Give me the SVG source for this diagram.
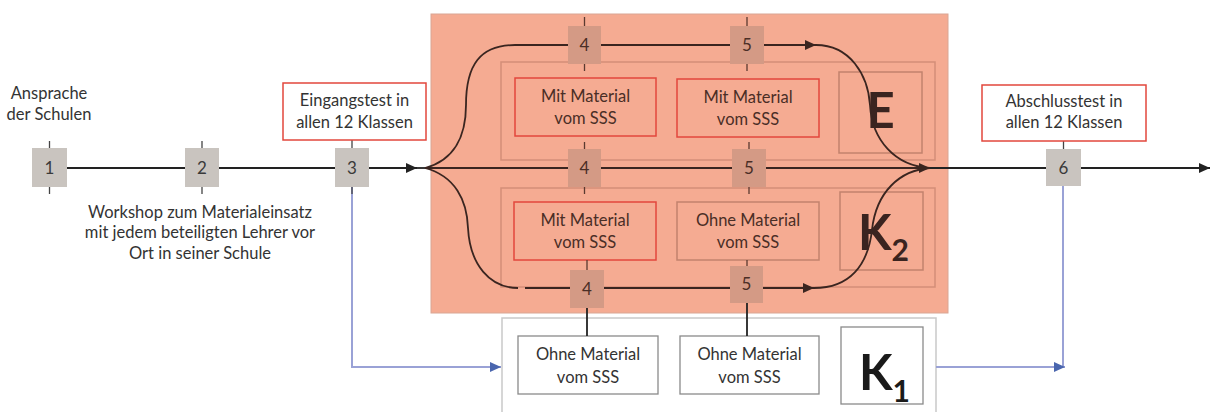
<svg xmlns="http://www.w3.org/2000/svg" width="1212" height="412" viewBox="0 0 1212 412">
<defs>
<style>
text{font-family:Lato,"Open Sans","DejaVu Sans",sans-serif}
.gbox{fill:#C9C4BF}
.sbox{fill:#D49A85}
.num{font-size:17px;fill:#3a3a3a;text-anchor:middle}
.snum{font-size:17px;fill:#4a2e26;text-anchor:middle}
.lbl{font-size:16.5px;fill:#333;text-anchor:middle}
.slbl{font-size:16.5px;fill:#4a2e26;text-anchor:middle}
.redbox{fill:#fff;stroke:#E2473D;stroke-width:1.5}
.sred{fill:none;stroke:#E2473D;stroke-width:1.5}
.sgrp{fill:none;stroke:#D38E78;stroke-width:1.5}
.sin{fill:none;stroke:#C2836D;stroke-width:1.5}
.wbox{fill:#fff;stroke:#8a8a8a;stroke-width:1.3}
.main{stroke:#222;stroke-width:1.8;fill:none}
.curve{stroke:#3a2520;stroke-width:1.8;fill:none}
.tick{stroke:#444;stroke-width:1.3}
.stick{stroke:#5a3a30;stroke-width:1.3}
.blue{stroke:#9AA2D6;stroke-width:2;fill:none}
.big{font-weight:700;fill:#3a2420}
</style>
<marker id="ab" markerUnits="userSpaceOnUse" markerWidth="12" markerHeight="10" refX="11" refY="5" orient="auto"><path d="M0,0 L11,5 L0,10 z" fill="#222"/></marker>
<marker id="abr" markerUnits="userSpaceOnUse" markerWidth="12" markerHeight="10" refX="11" refY="5" orient="auto"><path d="M0,0 L11,5 L0,10 z" fill="#3a2520"/></marker>
<marker id="abl" markerUnits="userSpaceOnUse" markerWidth="12" markerHeight="10" refX="11" refY="5" orient="auto"><path d="M0,0 L11,5 L0,10 z" fill="#4A66AE"/></marker>
</defs>
<rect width="1212" height="412" fill="#fff"/>

<!-- background panels -->
<g id="phase-panel">
<rect x="431" y="14" width="517" height="299" fill="#F5AB92" stroke="#D9A694" stroke-width="1"/>
</g>
<g id="group-E">
<rect class="sgrp" x="501" y="62" width="434" height="98"/>
<rect class="sred" x="515" y="78" width="141" height="58"/>
<text class="slbl" x="585.5" y="102">Mit Material</text>
<text class="slbl" x="585.5" y="124">vom SSS</text>
<rect class="sred" x="677" y="79" width="142" height="58"/>
<text class="slbl" x="748" y="103">Mit Material</text>
<text class="slbl" x="748" y="125">vom SSS</text>
<rect class="sin" x="839" y="72" width="83" height="81"/>
<text class="big" x="880.5" y="128" font-size="49" text-anchor="middle">E</text>
</g>
<g id="group-K2">
<rect class="sgrp" x="501" y="188" width="434" height="99"/>
<rect class="sred" x="514" y="202" width="142" height="58"/>
<text class="slbl" x="585" y="226">Mit Material</text>
<text class="slbl" x="585" y="248">vom SSS</text>
<rect class="sin" x="677" y="202" width="142" height="58"/>
<text class="slbl" x="748" y="226">Ohne Material</text>
<text class="slbl" x="748" y="248">vom SSS</text>
<rect class="sin" x="840" y="192" width="83" height="78"/>
<text class="big" x="858" y="250" font-size="49">K<tspan font-size="30" dy="11">2</tspan></text>
</g>
<g id="group-K1">
<rect x="502" y="318" width="434" height="110" fill="#fff" stroke="#C9C9C9" stroke-width="1.5"/>
<rect class="wbox" x="518" y="336" width="140" height="58"/>
<text class="lbl" x="588" y="360">Ohne Material</text>
<text class="lbl" x="588" y="383">vom SSS</text>
<rect class="wbox" x="680" y="336" width="139" height="58"/>
<text class="lbl" x="749.5" y="360">Ohne Material</text>
<text class="lbl" x="749.5" y="383">vom SSS</text>
<rect class="wbox" x="841" y="327" width="82" height="77"/>
<text x="859" y="390" font-size="49" font-weight="700" fill="#1a1a1a">K<tspan font-size="30" dy="12">1</tspan></text>
</g>

<!-- connectors -->
<g id="connectors">
<line class="main" x1="67" y1="168" x2="185" y2="168"/>
<line class="main" x1="219" y1="168" x2="335" y2="168"/>
<line class="main" x1="369" y1="168" x2="417" y2="168" marker-end="url(#ab)"/>
<line class="main" x1="417" y1="168" x2="425" y2="168"/>
<line class="curve" x1="425" y1="168" x2="930" y2="168" marker-end="url(#abr)"/>
<line class="main" x1="930" y1="168" x2="1046" y2="168"/>
<line class="main" x1="1081" y1="168" x2="1210" y2="168" marker-end="url(#ab)"/>
<path class="curve" d="M425 168 C455 160 466 135 466 105 C466 65 480 45 515 45 L816 45" marker-end="url(#abr)"/>
<path class="curve" d="M816 45 C850 45 868 75 870 105 C872 140 895 166 930 168"/>
<path class="curve" d="M425 168 C455 176 467 200 468 228 C470 265 490 288 518 288"/>
<line class="curve" x1="525" y1="288" x2="814" y2="288" marker-end="url(#abr)"/>
<path class="curve" d="M814 288 C850 288 868 265 872 230 C876 192 900 170 930 168"/>
<line class="main" x1="587" y1="308" x2="587" y2="336"/>
<line class="main" x1="747" y1="303" x2="747" y2="336"/>
<path class="blue" d="M352 187 L352 367 L489 367"/>
<line x1="489" y1="367" x2="501" y2="367" stroke="#9AA2D6" stroke-width="2" marker-end="url(#abl)"/>
<path class="blue" d="M936 367 L1063 367 L1063 186"/>
<line x1="1050" y1="367" x2="1065" y2="367" stroke="#9AA2D6" stroke-width="2" marker-end="url(#abl)"/>
</g>

<!-- gray step nodes -->
<g id="n1">
<line class="tick" x1="49.5" y1="141" x2="49.5" y2="194"/>
<rect class="gbox" x="32" y="148" width="35" height="39"/>
<text class="num" x="49.5" y="174">1</text>
</g>
<g id="n2">
<line class="tick" x1="202" y1="141" x2="202" y2="194"/>
<rect class="gbox" x="185" y="148" width="34" height="39"/>
<text class="num" x="202" y="174">2</text>
</g>
<g id="n3">
<line class="tick" x1="352" y1="140" x2="352" y2="194"/>
<rect class="gbox" x="335" y="148" width="34" height="39"/>
<text class="num" x="352" y="174">3</text>
</g>
<g id="n6">
<line class="tick" x1="1063.5" y1="141" x2="1063.5" y2="150"/>
<rect class="gbox" x="1046" y="149" width="35" height="37"/>
<text class="num" x="1063.5" y="174">6</text>
</g>

<!-- salmon step nodes -->
<g id="t4">
<line class="stick" x1="584.5" y1="17" x2="584.5" y2="71"/>
<rect class="sbox" x="568" y="26" width="33" height="38"/>
<text class="snum" x="584.5" y="51">4</text>
</g>
<g id="t5">
<line class="stick" x1="747" y1="17" x2="747" y2="71"/>
<rect class="sbox" x="730" y="26" width="34" height="38"/>
<text class="snum" x="747" y="51">5</text>
</g>
<g id="m4">
<line class="stick" x1="584.5" y1="142" x2="584.5" y2="194"/>
<rect class="sbox" x="568" y="149" width="33" height="38"/>
<text class="snum" x="584.5" y="174">4</text>
</g>
<g id="m5">
<line class="stick" x1="749" y1="142" x2="749" y2="194"/>
<rect class="sbox" x="732" y="149" width="34" height="38"/>
<text class="snum" x="749" y="174">5</text>
</g>
<g id="b4">
<line class="stick" x1="587" y1="260" x2="587" y2="270"/>
<rect class="sbox" x="570" y="270" width="34" height="38"/>
<text class="snum" x="587" y="295">4</text>
</g>
<g id="b5">
<line class="stick" x1="747" y1="260" x2="747" y2="266"/>
<rect class="sbox" x="730" y="266" width="33" height="37"/>
<text class="snum" x="746.5" y="290">5</text>
</g>

<!-- labels -->
<g id="label-ansprache">
<text class="lbl" x="49" y="99">Ansprache</text>
<text class="lbl" x="49" y="120">der Schulen</text>
</g>
<g id="label-workshop">
<text class="lbl" x="200" y="218">Workshop zum Materialeinsatz</text>
<text class="lbl" x="200" y="238">mit jedem beteiligten Lehrer vor</text>
<text class="lbl" x="200" y="259">Ort in seiner Schule</text>
</g>
<g id="eingangstest">
<rect class="redbox" x="283" y="83" width="143" height="57"/>
<text class="lbl" x="354.5" y="106">Eingangstest in</text>
<text class="lbl" x="354.5" y="128">allen 12 Klassen</text>
</g>
<g id="abschlusstest">
<rect class="redbox" x="982" y="85" width="164" height="56"/>
<text class="lbl" x="1064" y="107">Abschlusstest in</text>
<text class="lbl" x="1064" y="128">allen 12 Klassen</text>
</g>
</svg>
